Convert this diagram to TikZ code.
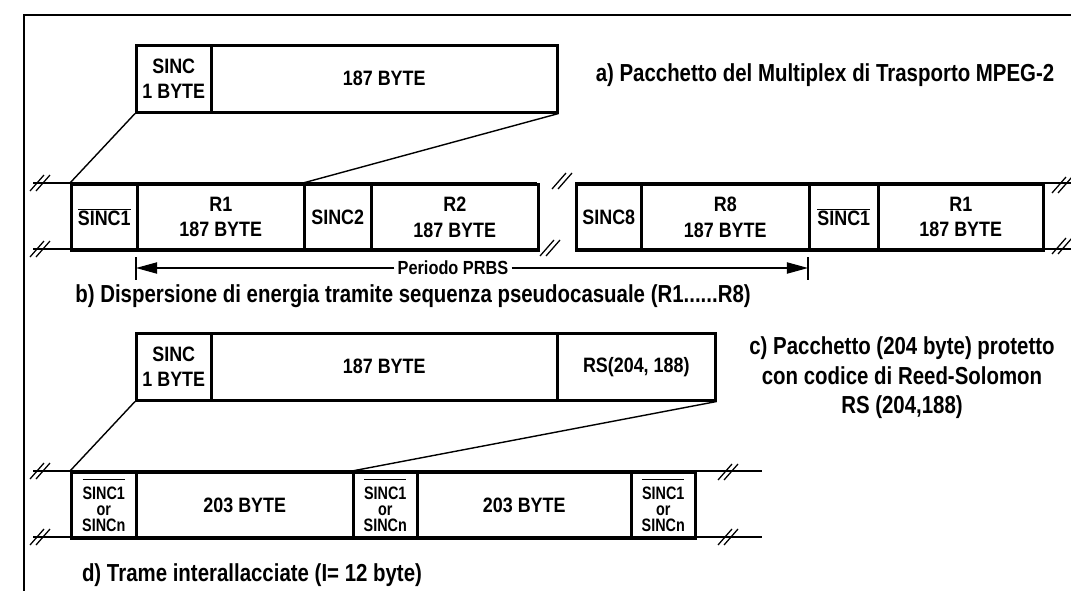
\documentclass[tikz,border=0pt]{standalone}
\usepackage{fontspec}
\setmainfont{Liberation Sans}
\newfontfamily\cellfam{Liberation Sans}[FakeStretch=0.86]
\newfontfamily\labfam{Liberation Sans}[FakeStretch=0.83]
\newfontfamily\smfam{Liberation Sans}[FakeStretch=0.8]
\usetikzlibrary{arrows.meta}
\newdimen\pxu \pxu=0.025cm
\newcommand\cellfont{\cellfam\fontsize{14.8}{18}\selectfont\bfseries}
\newcommand\prbsfont{\cellfam\fontsize{13.5}{16}\selectfont\bfseries}
\newcommand\labfont{\labfam\fontsize{17.5}{20.9}\selectfont\bfseries}
\newcommand\sfont{\smfam\fontsize{12.8}{11.3}\selectfont\bfseries}
\newcommand\ovl[1]{$\overline{\mbox{#1}}$}
\newcommand\ovd[1]{$\overline{\rule{0pt}{13pt}\mbox{#1}}$}
\tikzset{
  cell/.style={draw, line width=1.8pt, inner sep=0pt, anchor=north west, align=center, font=\cellfont},
  lab/.style={inner sep=0pt, font=\labfont},
  rowline/.style={line width=1.6pt},
  conn/.style={line width=1pt},
  arr/.style={line width=0.8pt, -{Triangle[length=15pt,width=8pt]}},
  brk/.pic={\draw[line width=0.9pt] (-10,8) -- (4,-8) (-4,8) -- (10,-8);}
}
\begin{document}
\begin{tikzpicture}[x=0.025cm, y=-0.025cm]
\useasboundingbox (0,0) rectangle (1071,591);
% frame
\draw[line width=1.2pt] (24,591) -- (24,15) -- (1071,15);

% a) packet
\node[cell, minimum width=75\pxu, minimum height=67\pxu] (a1) at (135,44) {SINC\\1 BYTE};
\node[cell, minimum width=346\pxu, minimum height=67\pxu] (a2) at (210,44) {187 BYTE};
\node[lab] (la) at (825,75) {a) Pacchetto del Multiplex di Trasporto MPEG-2};

% b) row
\coordinate (btl) at (33,183); \coordinate (bbl) at (33,249);
\coordinate (btm1) at (537,183); \coordinate (btm2) at (575,183);
\coordinate (bbm1) at (537,249); \coordinate (bbm2) at (575,249);
\coordinate (btr) at (1071,183); \coordinate (bbr) at (1071,249);
\draw[rowline] (btl) -- (btm1) (btm2) -- (btr);
\draw[rowline] (bbl) -- (bbm1) (bbm2) -- (bbr);
\node[cell, minimum width=66\pxu, minimum height=66\pxu] (b1) at (70,183) {\ovl{SINC1}};
\node[cell, minimum width=167\pxu, minimum height=66\pxu] (b2) at (136,183) {R1\\187 BYTE};
\node[cell, minimum width=67\pxu, minimum height=66\pxu] (b3) at (303,183) {SINC2};
\node[cell, minimum width=167\pxu, minimum height=66\pxu] (b4) at (370,183) {R2\\187 BYTE};
\node[cell, minimum width=65\pxu, minimum height=66\pxu] (b5) at (575,183) {SINC8};
\node[cell, minimum width=168\pxu, minimum height=66\pxu] (b6) at (640,183) {R8\\187 BYTE};
\node[cell, minimum width=69\pxu, minimum height=66\pxu] (b7) at (808,183) {\ovl{SINC1}};
\node[cell, minimum width=165\pxu, minimum height=66\pxu] (b8) at (877,183) {R1\\187 BYTE};
\pic at (40,183) {brk};
\pic at (40,249) {brk};
\pic at (562,181) {brk};
\pic at (550,248) {brk};
\pic at (1062,185) {brk};
\pic at (1062,246) {brk};

\draw[conn] (a1.south west) -- (b1.north west);
\draw[conn] (a2.south east) -- (b3.north west);

% PRBS arrow
\coordinate (pL) at (136,268);
\coordinate (pR) at (808,268);
\node[inner sep=3\pxu, font=\prbsfont] (prbs) at (453,268) {Periodo PRBS};
\draw[arr] (prbs.west) -- (pL);
\draw[arr] (prbs.east) -- (pR);
\draw[line width=0.9pt] (pL) ++(0,-11) -- ++(0,23);
\draw[line width=0.9pt] (pR) ++(0,-11) -- ++(0,23);
\node[lab] (lb) at (413,296) {b) Dispersione di energia tramite sequenza pseudocasuale (R1......R8)};

% c) packet
\node[cell, minimum width=75\pxu, minimum height=67\pxu] (c1) at (135,332) {SINC\\1 BYTE};
\node[cell, minimum width=346\pxu, minimum height=67\pxu] (c2) at (210,332) {187 BYTE};
\node[cell, minimum width=158\pxu, minimum height=67\pxu] (c3) at (556,332) {RS(204, 188)};
\node[lab, align=center] (lc) at (902,378) {c) Pacchetto (204 byte) protetto\\con codice di Reed-Solomon\\RS (204,188)};

% d) row
\coordinate (dtl) at (33,471); \coordinate (dbl) at (33,537);
\coordinate (dtr) at (762,471); \coordinate (dbr) at (762,537);
\draw[rowline] (dtl) -- (dtr);
\draw[rowline] (dbl) -- (dbr);
\node[cell, minimum width=65\pxu, minimum height=66\pxu, font=\sfont] (d1) at (70,471) {\ovd{SINC1}\\or\\SINCn};
\node[cell, minimum width=217\pxu, minimum height=66\pxu] (d2) at (135,471) {203 BYTE};
\node[cell, minimum width=64\pxu, minimum height=66\pxu, font=\sfont] (d3) at (352,471) {\ovd{SINC1}\\or\\SINCn};
\node[cell, minimum width=214\pxu, minimum height=66\pxu] (d4) at (416,471) {203 BYTE};
\node[cell, minimum width=64\pxu, minimum height=66\pxu, font=\sfont] (d5) at (630,471) {\ovd{SINC1}\\or\\SINCn};
\pic at (40,471) {brk};
\pic at (40,537) {brk};
\pic at (728,472) {brk};
\pic at (728,537) {brk};

\draw[conn] (c1.south west) -- (d1.north west);
\draw[conn] (c3.south east) -- (d3.north west);

\node[lab] (ld) at (252,575) {d) Trame interallacciate (I= 12 byte)};
\end{tikzpicture}
\end{document}
